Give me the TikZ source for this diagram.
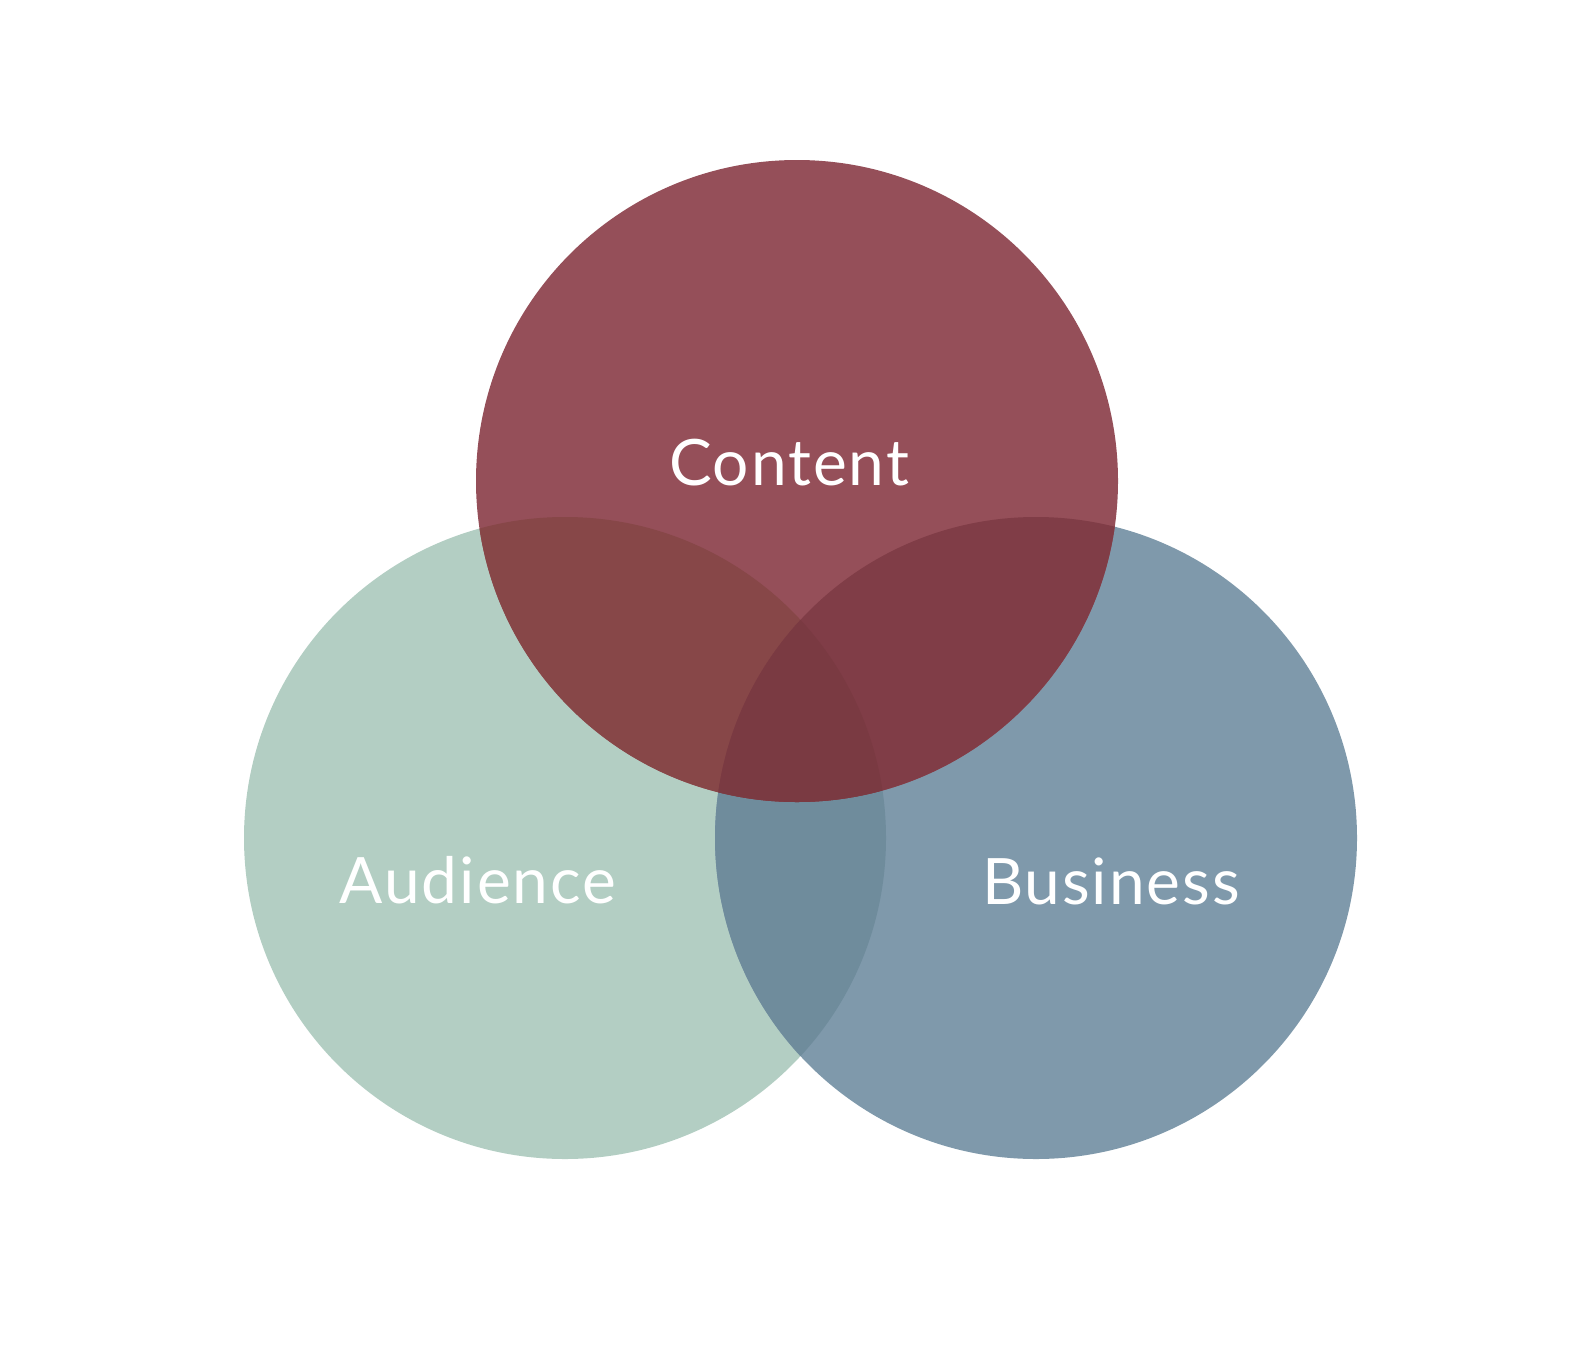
\documentclass[tikz,border=0pt]{standalone}
\usepackage{fontspec}
\setmainfont{Lato}
\newfontfamily\setfont[LetterSpace=3]{Lato}

\definecolor{audiencecol}{HTML}{B3CEC3}
\definecolor{businesscol}{HTML}{7F99AB}
\definecolor{contentcol}{HTML}{954F59}
\definecolor{abcol}{HTML}{6F8C9C}
\definecolor{accol}{HTML}{874748}
\definecolor{bccol}{HTML}{803D47}
\definecolor{abccol}{HTML}{7A3A42}

\begin{document}
\begin{tikzpicture}[x=1pt,y=-1pt]
% Configurable parameters
\def\r{321pt}

% Styles
\tikzstyle{setlabel}=[text=white,anchor=base,font=\setfont\fontsize{64}{64}\selectfont]

% Canvas
\useasboundingbox (0,0) rectangle (1578,1360);

% Coordinates: centres of the three sets.
\coordinate (C) at (797,481);	% Content.
\coordinate (A) at (565,838);	% Audience.
\coordinate (B) at (1036,838);	% Business.

% The circles
\fill[audiencecol] (A) circle (\r);
\fill[businesscol] (B) circle (\r);
\fill[contentcol] (C) circle (\r);

% Overlaps
\begin{scope}
  \clip (A) circle (\r);
  \fill[abcol] (B) circle (\r);
  \fill[accol] (C) circle (\r);
\end{scope}
\begin{scope}
  \clip (B) circle (\r);
  \fill[bccol] (C) circle (\r);
  \clip (A) circle (\r);
  \fill[abccol] (C) circle (\r);
\end{scope}

% Labels
\node[setlabel] (content) at (789,485) {Content};
\node[setlabel] (audience) at (478,903) {Audience};
\node[setlabel] (business) at (1111,904) {Business};
\end{tikzpicture}
\end{document}
